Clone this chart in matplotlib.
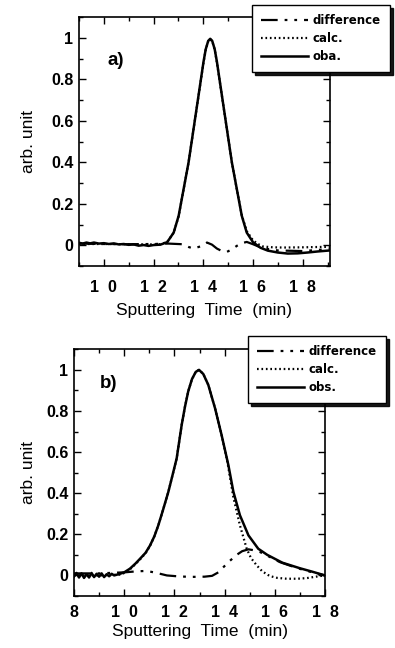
import matplotlib
matplotlib.use("Agg")
import matplotlib.pyplot as plt
from matplotlib.ticker import MultipleLocator, FixedLocator, FixedFormatter

plt.rcParams['font.family'] = ['Liberation Sans', 'DejaVu Sans']
plt.rcParams['lines.scale_dashes'] = False

# ---------------- data: panel a ----------------
a_obs_x = [9.0, 9.15, 9.3, 9.45, 9.6, 9.8, 10.0, 10.2, 10.4, 10.6, 10.8, 11.0, 11.2, 11.4,
           11.6, 11.8, 12.0, 12.28, 12.55, 12.81, 13.01, 13.21, 13.41, 13.61, 13.81, 14.01,
           14.1, 14.2, 14.28, 14.36, 14.46, 14.55, 14.75, 14.95, 15.15, 15.35, 15.55, 15.75,
           16.0, 16.3, 16.6, 17.0, 17.4, 17.8, 18.2, 18.6, 19.1]
a_obs_y = [0.012, 0.008, 0.013, 0.009, 0.013, 0.008, 0.010, 0.006, 0.009, 0.004, 0.006, 0.002,
           0.004, -0.002, 0.001, -0.003, 0.001, 0.003, 0.015, 0.061, 0.142, 0.271, 0.400,
           0.561, 0.722, 0.884, 0.945, 0.985, 0.995, 0.985, 0.945, 0.884, 0.722, 0.561,
           0.400, 0.271, 0.142, 0.061, 0.015, -0.012, -0.026, -0.035, -0.040, -0.039,
           -0.035, -0.030, -0.025]

a_calc_x = [9.0, 10.0, 11.0, 12.0, 12.28, 12.55, 12.81, 13.01, 13.21, 13.41, 13.61, 13.81,
            14.01, 14.1, 14.2, 14.28, 14.36, 14.46, 14.55, 14.75, 14.95, 15.15, 15.35, 15.55,
            15.75, 16.0, 16.2, 16.41, 16.8, 17.2, 18.0, 18.8, 19.1]
a_calc_y = [0.006, 0.006, 0.005, 0.004, 0.005, 0.016, 0.060, 0.140, 0.270, 0.400, 0.560,
            0.720, 0.880, 0.943, 0.983, 0.993, 0.983, 0.943, 0.880, 0.720, 0.560, 0.400,
            0.270, 0.145, 0.068, 0.024, 0.006, -0.006, -0.010, -0.011, -0.010, -0.008, -0.008]

a_diff_x = [9.0, 10.0, 11.0, 12.0, 12.6, 13.15, 13.4, 13.61, 13.9, 14.15, 14.35, 14.55, 14.75,
            14.95, 15.15, 15.35, 15.55, 15.75, 16.0, 16.4, 17.0, 18.0, 19.1]
a_diff_y = [0.008, 0.006, 0.005, 0.006, 0.008, 0.005, -0.008, -0.016, -0.005, 0.013, 0.003,
            -0.016, -0.028, -0.032, -0.020, -0.003, 0.010, 0.016, 0.005, -0.015, -0.025,
            -0.028, -0.018]

# ---------------- data: panel b ----------------
b_obs_x = [8.0, 8.1, 8.2, 8.3, 8.4, 8.5, 8.6, 8.7, 8.8, 8.9, 9.0, 9.1, 9.2, 9.3, 9.4, 9.5,
           9.6, 9.83, 10.0, 10.23, 10.45, 10.63, 10.85, 11.03, 11.2, 11.36, 11.55, 11.76,
           11.93, 12.09, 12.29, 12.42, 12.55, 12.7, 12.85, 12.98, 13.15, 13.35, 13.62, 13.88,
           14.15, 14.35, 14.61, 14.95, 15.34, 15.7, 16.3, 17.0, 17.5, 18.0]
b_obs_y = [-0.005, 0.012, -0.010, 0.010, -0.012, 0.006, -0.010, 0.012, -0.008, 0.008, -0.006,
           0.010, -0.008, 0.006, -0.004, 0.008, 0.000, 0.008, 0.015, 0.033, 0.058, 0.081,
           0.110, 0.146, 0.190, 0.244, 0.320, 0.407, 0.490, 0.569, 0.732, 0.820, 0.895,
           0.955, 0.990, 1.000, 0.980, 0.927, 0.813, 0.683, 0.537, 0.407, 0.293, 0.195,
           0.130, 0.100, 0.062, 0.035, 0.018, 0.000]

b_calc_x = [8.0, 9.0, 9.83, 10.0, 10.23, 10.45, 10.63, 10.85, 11.03, 11.2, 11.36, 11.55,
            11.76, 11.93, 12.09, 12.29, 12.42, 12.55, 12.7, 12.85, 12.98, 13.15, 13.35,
            13.62, 13.88, 14.1, 14.35, 14.61, 14.88, 15.05, 15.28, 15.5, 15.8, 16.1, 16.47,
            16.9, 17.27, 17.8, 18.0]
b_calc_y = [0.000, 0.000, 0.004, 0.012, 0.030, 0.055, 0.078, 0.108, 0.144, 0.190, 0.244,
            0.320, 0.407, 0.490, 0.569, 0.732, 0.820, 0.895, 0.955, 0.990, 1.000, 0.980,
            0.927, 0.813, 0.683, 0.560, 0.380, 0.244, 0.130, 0.085, 0.049, 0.020, -0.003,
            -0.012, -0.016, -0.016, -0.013, -0.003, 0.000]

b_diff_x = [8.0, 9.0, 10.0, 10.5, 10.9, 11.3, 11.7, 12.2, 12.7, 13.2, 13.5, 13.75, 13.95,
            14.2, 14.48, 14.7, 14.95, 15.2, 15.41, 15.8, 16.2, 16.6, 17.0, 17.5, 17.93, 18.0]
b_diff_y = [0.010, 0.010, 0.015, 0.020, 0.022, 0.012, 0.000, -0.005, -0.007, -0.006, -0.002,
            0.015, 0.040, 0.070, 0.100, 0.118, 0.127, 0.122, 0.114, 0.090, 0.065, 0.048,
            0.032, 0.015, 0.002, 0.000]

a_xticks = [10, 12, 14, 16, 18]
a_xticklabels = ["1  0", "1  2", "1  4", "1  6", "1  8"]
b_xticks = [8, 10, 12, 14, 16, 18]
b_xticklabels = ["8", "1  0", "1  2", "1  4", "1  6", "1  8"]
yticks = [0, 0.2, 0.4, 0.6, 0.8, 1.0]
yticklabels = ["0", "0.2", "0.4", "0.6", "0.8", "1"]
legend_a = ["difference", "calc.", "oba."]
legend_b = ["difference", "calc.", "obs."]

DIFF_STYLE = (0, (12, 5, 2, 5, 2, 5))
CALC_STYLE = (0, (1.2, 2.0))

fig = plt.figure(figsize=(3.95, 6.48), dpi=100)
ax1 = fig.add_axes([79/395, 1-266/648, 251/395, 249/648])
ax2 = fig.add_axes([74/395, 1-596/648, 251/395, 246.7/648])


def style_axes(ax, xlim, xticks, xticklabels, xpad, xlabel_y, ylabel_x):
    ax.set_xlim(*xlim)
    ax.set_ylim(-0.1, 1.1)
    ax.xaxis.set_major_locator(FixedLocator(xticks))
    ax.xaxis.set_major_formatter(FixedFormatter(xticklabels))
    ax.xaxis.set_minor_locator(MultipleLocator(1))
    ax.yaxis.set_major_locator(FixedLocator(yticks))
    ax.yaxis.set_major_formatter(FixedFormatter(yticklabels))
    ax.yaxis.set_minor_locator(MultipleLocator(0.1))
    ax.tick_params(which='both', direction='in', top=True, right=True, width=1.0)
    ax.tick_params(which='major', length=5)
    ax.tick_params(which='minor', length=3)
    ax.tick_params(axis='x', which='major', pad=xpad, labelsize=11.5)
    ax.tick_params(axis='y', which='major', pad=4, labelsize=11.5)
    for lab in ax.get_xticklabels() + ax.get_yticklabels():
        lab.set_fontweight('bold')
    for sp in ax.spines.values():
        sp.set_linewidth(1.2)
    ax.set_xlabel("Sputtering  Time  (min)", fontsize=12.5)
    ax.xaxis.set_label_coords(0.5, xlabel_y)
    ax.set_ylabel("arb. unit", fontsize=12.5)
    ax.yaxis.set_label_coords(ylabel_x, 0.5)


def draw(ax, ox, oy, cx, cy, dx, dy, labels, anchor):
    l_obs, = ax.plot(ox, oy, color='black', lw=1.8, solid_joinstyle='round')
    l_calc, = ax.plot(cx, cy, color='black', lw=1.6, linestyle=CALC_STYLE)
    l_diff, = ax.plot(dx, dy, color='black', lw=1.6, linestyle=DIFF_STYLE)
    leg = ax.legend([l_diff, l_calc, l_obs], labels, loc='upper left',
                    bbox_to_anchor=anchor, bbox_transform=fig.transFigure,
                    prop={'family': 'DejaVu Sans', 'size': 8.5, 'weight': 'bold'},
                    handlelength=4.0, handletextpad=0.4, labelspacing=0.45,
                    borderpad=0.75, borderaxespad=0, fancybox=False, framealpha=1,
                    edgecolor='black', shadow={'color': 'black', 'alpha': 0.9})
    leg.get_frame().set_linewidth(1.0)


draw(ax1, a_obs_x, a_obs_y, a_calc_x, a_calc_y, a_diff_x, a_diff_y, legend_a,
     (252/395, 1-5/648))
style_axes(ax1, (9.0, 19.1), a_xticks, a_xticklabels, 10, -0.15, -0.173)
ax1.text(0.112, 0.827, "a)", transform=ax1.transAxes, fontsize=13.5, fontweight='bold',
         ha='left', va='center')

draw(ax2, b_obs_x, b_obs_y, b_calc_x, b_calc_y, b_diff_x, b_diff_y, legend_b,
     (248/395, 1-336/648))
style_axes(ax2, (8.0, 18.0), b_xticks, b_xticklabels, 6.5, -0.115, -0.153)
ax2.text(0.104, 0.862, "b)", transform=ax2.transAxes, fontsize=13.5, fontweight='bold',
         ha='left', va='center')

fig.savefig("out.png", dpi=100)
